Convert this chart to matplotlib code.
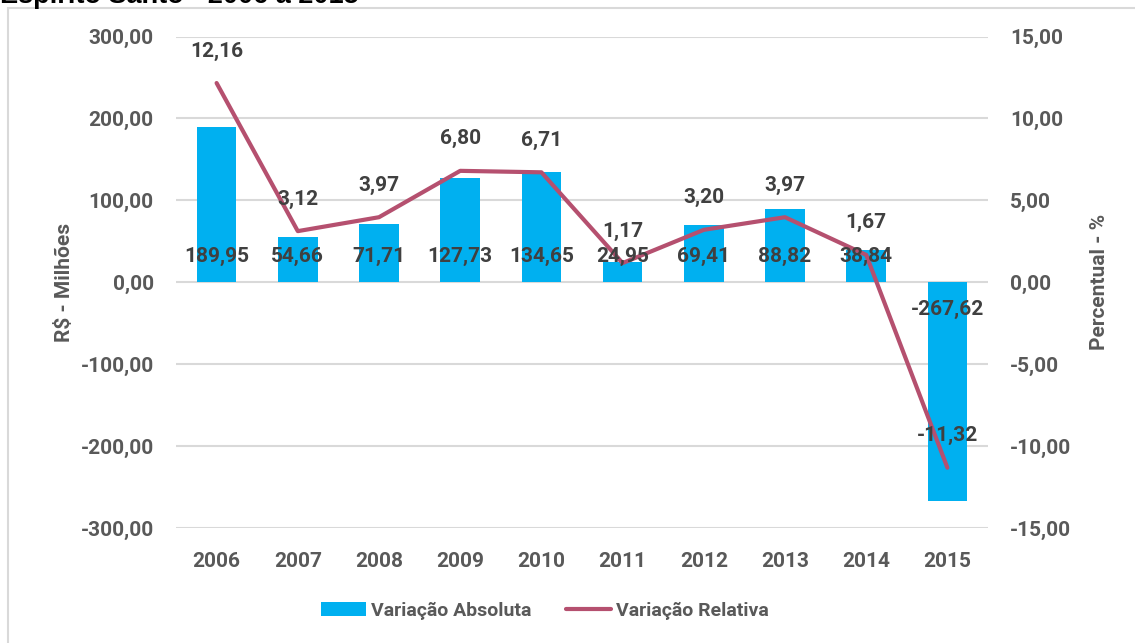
import matplotlib
matplotlib.use("Agg")
import matplotlib.pyplot as plt
from matplotlib.patches import Rectangle, Patch
from matplotlib.lines import Line2D

years = ["2006", "2007", "2008", "2009", "2010", "2011", "2012", "2013", "2014", "2015"]
variacao_absoluta = [189.95, 54.66, 71.71, 127.73, 134.65, 24.95, 69.41, 88.82, 38.84, -267.62]
variacao_relativa = [12.16, 3.12, 3.97, 6.80, 6.71, 1.17, 3.20, 3.97, 1.67, -11.32]
left_ticks = [-300, -200, -100, 0, 100, 200, 300]
right_ticks = [-15, -10, -5, 0, 5, 10, 15]

BAR_C = "#00B0F0"
LINE_C = "#B5506F"
LBL_C = "#404040"
TICK_C = "#595959"
GRID_C = "#D9D9D9"
FONT = "Roboto"
FS = 15

def fmt(v):
    return f"{v:.2f}".replace(".", ",")

W, H = 1135, 643
fig = plt.figure(figsize=(W / 100, H / 100), dpi=100)
ax1 = fig.add_axes([176 / W, 1 - 528 / H, (988 - 176) / W, (528 - 36.5) / H])
ax2 = ax1.twinx()

x = list(range(len(years)))
ax1.bar(x, variacao_absoluta, width=0.49, color=BAR_C, zorder=2)
ax1.set_ylim(-300, 300)
ax1.set_xlim(-0.5, len(years) - 0.5)
ax1.set_yticks(left_ticks)
ax1.set_yticklabels([fmt(t) for t in left_ticks])
ax1.set_xticks(x)
ax1.set_xticklabels(years)
ax1.grid(axis="y", color=GRID_C, linewidth=1.5, zorder=0)
ax1.set_axisbelow(True)

ax2.plot(x, variacao_relativa, color=LINE_C, linewidth=3.0, solid_capstyle="round",
         solid_joinstyle="round", zorder=3)
ax2.set_ylim(-15, 15)
ax2.set_yticks(right_ticks)
ax2.set_yticklabels([fmt(t) for t in right_ticks])

for a in (ax1, ax2):
    for s in a.spines.values():
        s.set_visible(False)
    a.tick_params(length=0, labelsize=FS, labelcolor=TICK_C)
    for lab in a.get_xticklabels() + a.get_yticklabels():
        lab.set_fontfamily(FONT)
        lab.set_fontweight("bold")
ax1.tick_params(axis="y", pad=16)
ax1.tick_params(axis="x", pad=17)
ax2.tick_params(axis="y", pad=16)

ax1.set_ylabel("R$ - Milhões", fontsize=FS, fontweight="bold", family=FONT,
               color=TICK_C, labelpad=5)
ax2.set_ylabel("Percentual - %", fontsize=FS, fontweight="bold", family=FONT,
               color=TICK_C, labelpad=13)

# bar labels (inside base)
for i, v in enumerate(variacao_absoluta):
    off = 26 if v >= 0 else -27
    ax2.annotate(fmt(v), xy=(i, 0), xycoords=ax1.transData, xytext=(0, off),
                 textcoords="offset pixels", ha="center", va="center",
                 fontsize=FS, fontweight="bold", family=FONT, color=LBL_C, zorder=5)
# line labels (above)
for i, v in enumerate(variacao_relativa):
    ax2.annotate(fmt(v), xy=(i, v), xycoords=ax2.transData, xytext=(0, 32),
                 textcoords="offset pixels", ha="center", va="center",
                 fontsize=FS, fontweight="bold", family=FONT, color=LBL_C, zorder=5)

handles = [Patch(facecolor=BAR_C, edgecolor="none"),
           Line2D([0], [0], color=LINE_C, linewidth=3.0, solid_capstyle="round")]
leg = fig.legend(handles, ["Variação Absoluta", "Variação Relativa"], loc="center",
                 bbox_to_anchor=(545 / W, 1 - 611 / H), ncol=2, frameon=False,
                 prop={"family": FONT, "weight": "bold", "size": 14},
                 handlelength=2.3, handleheight=0.75, handletextpad=0.25, columnspacing=1.8)
for t in leg.get_texts():
    t.set_color(TICK_C)

fig.patches.append(Rectangle((8 / W, -0.2), 1.5, 1.2 - 8 / H,
                             transform=fig.transFigure, fill=False,
                             edgecolor=GRID_C, linewidth=1.5))
fig.text(0.0, 1 - 3 / H, "Espírito Santo - 2006 a 2015", fontsize=19.5,
         fontweight="bold", family="Liberation Sans", color="black",
         ha="left", va="baseline")

fig.savefig("out.png", dpi=100)
